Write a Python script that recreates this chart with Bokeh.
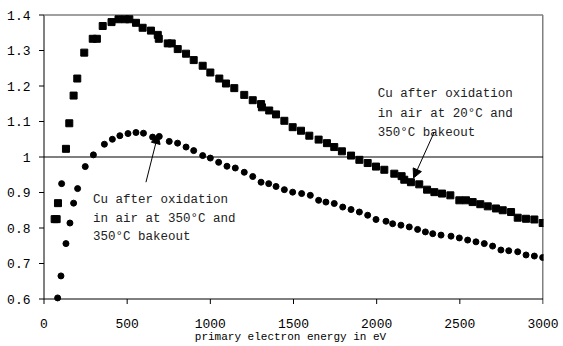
from bokeh.plotting import figure
from bokeh.models import Arrow, NormalHead, Label, FixedTicker, CustomJSTickFormatter
from bokeh.embed import file_html
from bokeh.resources import INLINE

# Upper series: Cu after oxidation in air at 20°C and 350°C bakeout
x_up = [64, 76, 84, 132, 152, 178, 200, 242, 293, 318, 353, 406, 448, 488, 513, 553, 593, 643,
        684, 690, 744, 768, 804, 854, 900, 954, 1000, 1054, 1094, 1144, 1204, 1255, 1305, 1310,
        1354, 1395, 1445, 1495, 1545, 1595, 1651, 1701, 1745, 1791, 1846, 1896, 1946, 1996, 2046,
        2106, 2150, 2166, 2206, 2256, 2303, 2347, 2393, 2443, 2497, 2537, 2577, 2623, 2668, 2717,
        2758, 2808, 2848, 2898, 2948, 2998]
y_up = [0.825, 0.825, 0.870, 1.023, 1.095, 1.173, 1.221, 1.294, 1.333, 1.333, 1.369, 1.380, 1.388,
        1.388, 1.388, 1.378, 1.364, 1.356, 1.344, 1.333, 1.320, 1.320, 1.304, 1.291, 1.273, 1.257,
        1.238, 1.221, 1.207, 1.194, 1.175, 1.160, 1.149, 1.140, 1.131, 1.120, 1.102, 1.084, 1.074,
        1.060, 1.049, 1.039, 1.028, 1.016, 1.004, 0.992, 0.983, 0.973, 0.964, 0.953, 0.946, 0.936,
        0.929, 0.923, 0.908, 0.901, 0.897, 0.892, 0.878, 0.878, 0.873, 0.867, 0.861, 0.855, 0.850,
        0.845, 0.829, 0.826, 0.824, 0.814]

# Lower series: Cu after oxidation in air at 350°C and 350°C bakeout
x_lo = [82, 102, 106, 132, 156, 178, 202, 248, 297, 363, 411, 456, 505, 553, 598, 653, 693, 753,
        803, 854, 900, 954, 1000, 1050, 1100, 1150, 1204, 1255, 1305, 1351, 1395, 1445, 1495, 1549,
        1601, 1651, 1695, 1745, 1796, 1846, 1896, 1946, 1996, 2056, 2096, 2146, 2196, 2246, 2293,
        2337, 2387, 2447, 2497, 2547, 2597, 2647, 2697, 2747, 2794, 2848, 2898, 2948, 2998]
y_lo = [0.603, 0.665, 0.925, 0.756, 0.814, 0.870, 0.911, 0.973, 1.006, 1.036, 1.050, 1.060, 1.066,
        1.069, 1.067, 1.056, 1.058, 1.044, 1.039, 1.028, 1.018, 1.004, 0.997, 0.985, 0.974, 0.969,
        0.957, 0.945, 0.929, 0.925, 0.917, 0.908, 0.901, 0.897, 0.892, 0.878, 0.873, 0.869, 0.859,
        0.852, 0.845, 0.836, 0.824, 0.819, 0.812, 0.808, 0.803, 0.796, 0.789, 0.784, 0.780, 0.777,
        0.772, 0.766, 0.761, 0.756, 0.749, 0.738, 0.736, 0.733, 0.724, 0.721, 0.717]

x_ticks = [0, 500, 1000, 1500, 2000, 2500, 3000]
y_ticks = [0.6, 0.7, 0.8, 0.9, 1.0, 1.1, 1.2, 1.3, 1.4]
y_tick_labels = ["0.6", "0.7", "0.8", "0.9", "1", "1.1", "1.2", "1.3", "1.4"]
ref_level = 1.0

x_title = "primary electron energy in eV"
note_left = ["Cu after oxidation", "in air at 350°C and", "350°C bakeout"]
note_right = ["Cu after oxidation", "in air at 20°C and", "350°C bakeout"]

FONT = "Liberation Mono"

# axis extents and pixel geometry (axis lines land on pixel centres)
X0, X1 = x_ticks[0], x_ticks[-1]
Y0, Y1 = y_ticks[0], y_ticks[-1]
PX_W, PX_H = 499, 284            # pixels spanned by the axes
dx = (X1 - X0) / PX_W            # data units per pixel
dy = (Y1 - Y0) / PX_H
TICK = 5                          # outward tick length (px)
PAD_L, PAD_B, PAD_R, PAD_T = 6.5, 6.5, 0.5, 1.5   # frame room around the axes (px)
B_L, B_R, B_T, B_B = 37, 20, 13, 41

p = figure(width=563, height=346,
           x_range=(X0 - PAD_L * dx, X1 + PAD_R * dx),
           y_range=(Y0 - PAD_B * dy, Y1 + PAD_T * dy),
           output_backend="svg", toolbar_location=None,
           min_border_left=B_L, min_border_right=B_R,
           min_border_top=B_T, min_border_bottom=B_B)
p.outline_line_color = None
p.xgrid.visible = False
p.ygrid.visible = False

for ax in (p.xaxis[0], p.yaxis[0]):
    ax.axis_line_color = None
    ax.major_tick_line_color = None
    ax.minor_tick_line_color = None
    ax.major_tick_out = 0
    ax.major_tick_in = 0
    ax.major_label_text_font = FONT
    ax.major_label_text_color = "black"

p.xaxis.ticker = FixedTicker(ticks=x_ticks)
p.xaxis.major_label_text_font_size = "13px"
p.xaxis.major_label_standoff = 13
p.xaxis.axis_label = x_title
p.xaxis.axis_label_text_font = FONT
p.xaxis.axis_label_text_font_size = "11px"
p.xaxis.axis_label_text_font_style = "normal"
p.xaxis.axis_label_text_color = "black"
p.xaxis.axis_label_standoff = 0

p.yaxis.ticker = FixedTicker(ticks=y_ticks)
p.yaxis.formatter = CustomJSTickFormatter(args=dict(tv=y_ticks, tl=y_tick_labels), code="""
    let best = 0;
    for (let i = 0; i < tv.length; i++) {
        if (Math.abs(tv[i] - tick) < Math.abs(tv[best] - tick)) best = i;
    }
    return tl[best];
""")
p.yaxis.major_label_text_font_size = "13px"
p.yaxis.major_label_standoff = 7

# axis lines, frame edges and reference line
p.segment(x0=[X0, X0, X1], y0=[Y0, Y0, Y0], x1=[X0, X1, X1], y1=[Y1, Y0, Y1],
          line_color="black", line_width=1)
p.segment(x0=[X0], y0=[Y1], x1=[X1], y1=[Y1], line_color="#808080", line_width=1.5)
p.segment(x0=[X0], y0=[ref_level], x1=[X1], y1=[ref_level], line_color="black", line_width=1)

# outward tick marks
p.segment(x0=x_ticks, x1=x_ticks, y0=[Y0] * len(x_ticks), y1=[Y0 - TICK * dy] * len(x_ticks),
          line_color="black", line_width=1)
p.segment(x0=[X0] * len(y_ticks), x1=[X0 - TICK * dx] * len(y_ticks), y0=y_ticks, y1=y_ticks,
          line_color="black", line_width=1)

p.scatter(x_up, y_up, marker="square", size=7, color="black")
p.scatter(x_lo, y_lo, marker="circle", size=6, color="black")

# annotations
def note(lines, x0, y0, step):
    for i, t in enumerate(lines):
        p.add_layout(Label(x=x0, y=y0 - i * step, text=t, text_font=FONT,
                           text_font_size="12.5px", text_color="#222222",
                           text_baseline="alphabetic", text_align="left"))

note(note_left, 295, 0.878, 0.052)
note(note_right, 2006, 1.177, 0.055)

p.add_layout(Arrow(end=NormalHead(size=9, fill_color="black", line_color="black"),
                   x_start=613, y_start=0.929, x_end=685, y_end=1.063,
                   line_color="black", line_width=1))
p.add_layout(Arrow(end=NormalHead(size=9, fill_color="black", line_color="black"),
                   x_start=2346, y_start=1.070, x_end=2222, y_end=0.941,
                   line_color="black", line_width=1))

open("out.html", "w").write(file_html(p, INLINE))
